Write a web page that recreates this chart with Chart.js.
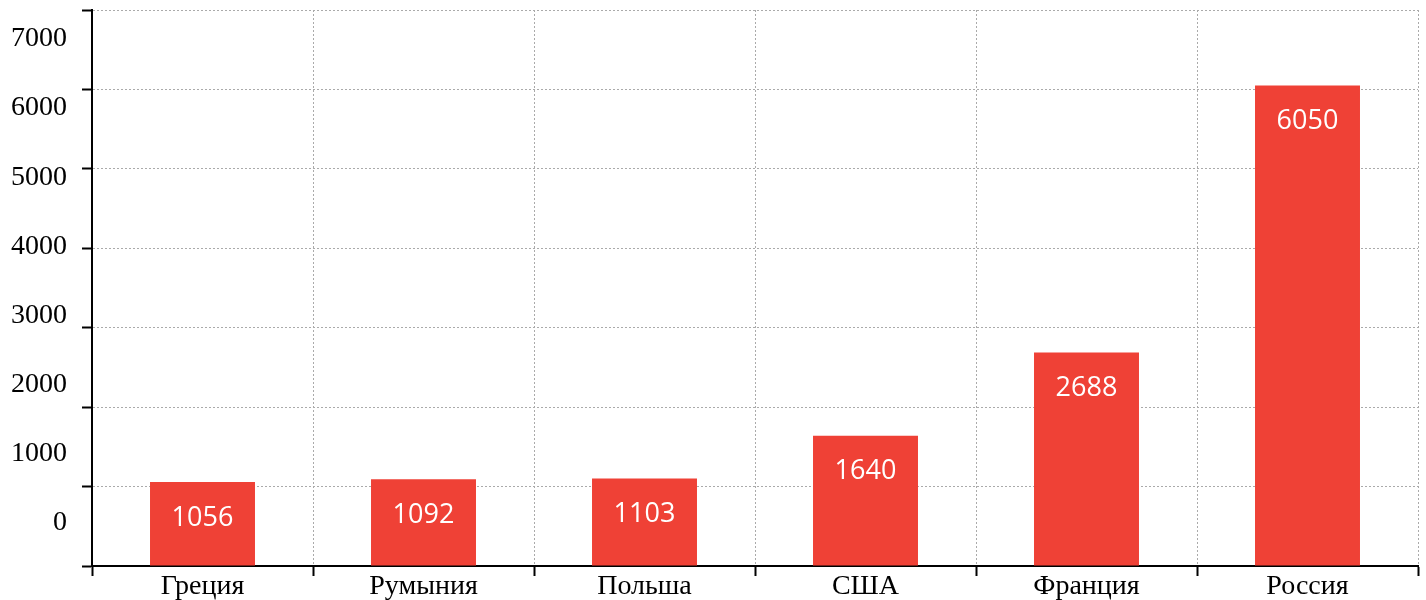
<!DOCTYPE html>
<html>
<head>
<meta charset="utf-8">
<script src="https://cdn.jsdelivr.net/npm/chart.js@4"></script>
<style>
  html, body { margin: 0; padding: 0; background: #fff; }
  canvas { display: block; }
</style>
</head>
<body>
<canvas id="chart" width="1426" height="600"></canvas>
<script>
const countries = ["Греция", "Румыния", "Польша", "США", "Франция", "Россия"];
const values = [1056, 1092, 1103, 1640, 2688, 6050];
const yTicks = [0, 1000, 2000, 3000, 4000, 5000, 6000, 7000];

const barColor = "#ef4136";
const serif = "'Liberation Serif', 'DejaVu Serif', serif";

// white value labels inside the bars
const valueLabels = {
  id: "valueLabels",
  afterDatasetsDraw(chart) {
    const ctx = chart.ctx;
    const meta = chart.getDatasetMeta(0);
    ctx.save();
    ctx.fillStyle = "#fff";
    ctx.font = "27px 'Open Sans', sans-serif";
    ctx.textAlign = "center";
    ctx.textBaseline = "middle";
    meta.data.forEach((bar, i) => {
      ctx.fillText(String(values[i]), bar.x, bar.y + 36);
    });
    ctx.restore();
  },
};

function noPad(axis) {
  axis.paddingTop = 0;
  axis.paddingBottom = 0;
  axis.paddingLeft = 0;
  axis.paddingRight = 0;
}

const ctx = document.getElementById("chart").getContext("2d");
new Chart(ctx, {
  type: "bar",
  data: {
    labels: countries,
    datasets: [
      {
        data: values,
        backgroundColor: barColor,
        barPercentage: 0.475,
        categoryPercentage: 1,
      },
    ],
  },
  options: {
    responsive: false,
    animation: false,
    events: [],
    layout: { padding: { top: 10, right: 8, left: 0, bottom: 0 } },
    plugins: { legend: { display: false }, tooltip: { enabled: false } },
    scales: {
      x: {
        grid: {
          offset: true,
          color: "#aaa",
          tickColor: "#000",
          tickLength: 10,
          tickWidth: 2,
        },
        border: { color: "#000", width: 2, dash: [2, 2] },
        ticks: {
          color: "#000",
          font: { family: serif, size: 28 },
          padding: -6,
          maxRotation: 0,
        },
        afterFit(axis) {
          axis.height = 34;
          noPad(axis);
        },
      },
      y: {
        min: 0,
        max: 7000,
        weight: 0,
        ticks: { stepSize: 1000, display: false },
        grid: {
          color: "#aaa",
          tickColor: "#000",
          tickLength: 10,
          tickWidth: 2,
        },
        border: { color: "#000", width: 2, dash: [2, 2] },
        afterFit(axis) {
          axis.width = 10;
          noPad(axis);
        },
      },
      // tick labels sit on their own scale, offset from the grid
      yLabels: {
        position: "left",
        weight: 1,
        min: -622,
        max: 7419,
        grid: { display: false, drawTicks: false },
        border: { display: false },
        ticks: {
          color: "#000",
          font: { family: serif, size: 28 },
          padding: 15,
          callback: (v) => String(v),
        },
        afterBuildTicks(axis) {
          axis.ticks = yTicks.map((v) => ({ value: v }));
        },
        afterFit(axis) {
          axis.width = 82;
          noPad(axis);
        },
      },
    },
  },
  plugins: [valueLabels],
});
</script>
</body>
</html>
